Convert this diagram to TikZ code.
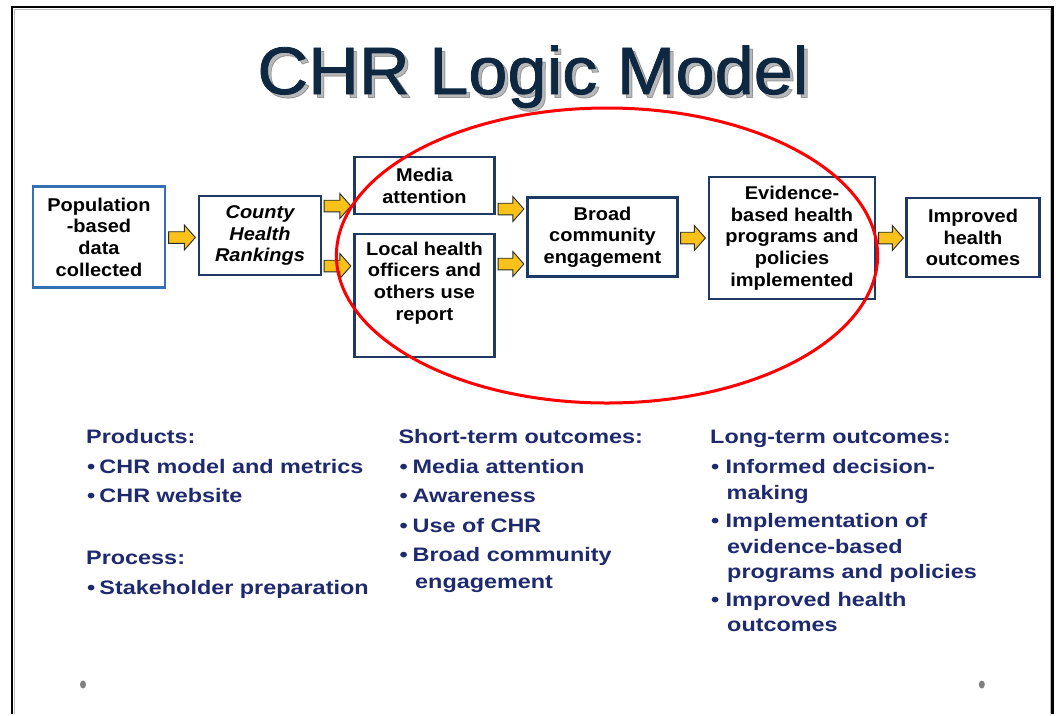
\documentclass[tikz,border=0pt]{standalone}
\usepackage{fontspec}
\setmainfont{Liberation Sans}
\newfontfamily\titlefont[FakeStretch=1.05,FakeBold=1.2]{Liberation Sans}
\newfontfamily\boxfont[FakeStretch=1.08]{Liberation Sans}
\newfontfamily\listfont[FakeStretch=1.2]{Liberation Sans}
\usetikzlibrary{calc}

\definecolor{titleblue}{HTML}{0E2841}
\definecolor{boxnavy}{HTML}{1F3864}
\definecolor{popblue}{HTML}{3570B5}
\definecolor{listblue}{HTML}{1F2A6E}
\definecolor{arrowyellow}{HTML}{F9C21B}
\definecolor{arrowline}{HTML}{2A2A2A}
\definecolor{dotgray}{HTML}{808080}

% bullet followed by a fixed gap
\newcommand\bul[1][12.5pt]{\makebox[#1][l]{•}}

\begin{document}
\begin{tikzpicture}[x=1pt,y=-1pt,
  box/.style={draw=boxnavy, line width=2.3pt, fill=white, inner sep=0pt,
    align=center, text=black,
    font=\boxfont\bfseries\fontsize{18.5pt}{21.7pt}\selectfont},
  boxtext/.style={inner sep=0pt, align=center, text=black,
    font=\boxfont\bfseries\fontsize{18.5pt}{21.7pt}\selectfont},
  listline/.style={anchor=base west, inner sep=0pt, text=listblue,
    font=\listfont\bfseries\fontsize{19.5pt}{26pt}\selectfont},
  titletext/.style={anchor=base, inner sep=0pt,
    font=\titlefont\fontsize{67pt}{67pt}\selectfont},
  flow/.style={draw=arrowline, line width=0.9pt, fill=arrowyellow, line join=miter,
    to path={let \p1=(\tikztostart), \p2=(\tikztotarget) in
      (\x1,\y1+5.8pt) -- (\x2-11pt,\y1+5.8pt) -- (\x2-11pt,\y1+12.5pt) -- (\x2,\y1)
      -- (\x2-11pt,\y1-12.5pt) -- (\x2-11pt,\y1-5.8pt) -- (\x1,\y1-5.8pt) -- cycle}},
]
% page and slide frame
\fill[white] (0,0) rectangle (1056,714);
\draw[black!25, line width=1pt] (14.5,714) -- (14.5,9.5) -- (1050,9.5) -- (1050,714);
\draw[black, line width=2.5pt] (12,714) -- (12,7) -- (1052.5,7) -- (1052.5,714);

% title with a soft drop shadow
\node[titletext, text=black, opacity=0.28] (titleshadow) at (536.5,97.5) {CHR Logic Model};
\node[titletext, text=titleblue] (title) at (533,94) {CHR Logic Model};

% logic model boxes
\node[box, draw=popblue, minimum width=132pt, minimum height=101pt] (pop) at (99,237)
  {Population\\-based\\data\\collected};
\node[box, minimum width=122pt, minimum height=79pt] (chr) at (260,235.5)
  {\itshape County\\\itshape Health\\\itshape Rankings};
\node[box, minimum width=140pt, minimum height=57pt] (media) at (424.5,185.6)
  {Media\\attention};
\node[box, minimum width=140pt, minimum height=123pt] (local) at (424.5,295.3) {};
\node[boxtext] (localtxt) at (424.5,283) {Local health\\officers and\\others use\\report};
\node[box, minimum width=150pt, minimum height=79pt] (broad) at (602.5,237)
  {Broad\\community\\engagement};
\node[box, minimum width=166pt, minimum height=122pt] (evid) at (792,238)
  {Evidence-\\based health\\programs and\\policies\\implemented};
\node[box, minimum width=133pt, minimum height=79pt] (impr) at (973,237.5)
  {Improved\\health\\outcomes};

% block arrows between boxes
\draw[flow] ([xshift=2.5pt,yshift=-0.5pt]pop.east) to ([xshift=-2.5pt]chr.west);
\draw[flow] ([xshift=2pt,yshift=29.5pt]chr.east) to ([xshift=-2.5pt]media.west);
\draw[flow] ([xshift=2pt,yshift=-30.5pt]chr.east) to ([xshift=-2.5pt]local.west);
\draw[flow] ([xshift=2.5pt,yshift=-23.4pt]media.east) to ([xshift=-2.5pt]broad.west);
\draw[flow] ([xshift=2.5pt,yshift=31.3pt]local.east) to ([xshift=-2.5pt]broad.west);
\draw[flow] ([xshift=2pt,yshift=-1pt]broad.east) to ([xshift=-2.5pt]evid.west);
\draw[flow] ([xshift=2.5pt]evid.east) to ([xshift=-2pt]impr.west);

% highlight ring
\draw[red, line width=3pt] (607,255.5) ellipse [x radius=270.6, y radius=147.5];

% products and process
\node[listline] (prodh) at (86,443.3) {Products:};
\node[listline] (prod1) at (86.8,473.3) {\bul CHR model and metrics};
\node[listline] (prod2) at (86.8,502.7) {\bul CHR website};
\node[listline] (proch) at (86,564.3) {Process:};
\node[listline] (proc1) at (86.8,594) {\bul Stakeholder preparation};

% short-term outcomes
\node[listline] (shorth) at (398.3,443.3) {Short-term outcomes:};
\node[listline] (short1) at (399.5,473.3) {\bul[13pt]Media attention};
\node[listline] (short2) at (399.5,502.7) {\bul[13pt]Awareness};
\node[listline] (short3) at (399.5,532.7) {\bul[13pt]Use of CHR};
\node[listline] (short4) at (399.5,561.7) {\bul[13pt]Broad community};
\node[listline] (short4b) at (415,588.3) {engagement};

% long-term outcomes
\node[listline] (longh) at (710,443.3) {Long-term outcomes:};
\node[listline] (long1) at (711,473.3) {\bul[14.5pt]Informed decision-};
\node[listline] (long1b) at (726.5,499.3) {making};
\node[listline] (long2) at (711,527.3) {\bul[14.5pt]Implementation of};
\node[listline] (long2b) at (727,553.3) {evidence-based};
\node[listline] (long2c) at (727,578.3) {programs and policies};
\node[listline] (long3) at (711,606.7) {\bul[14.5pt]Improved health};
\node[listline] (long3b) at (727,631.7) {outcomes};

% slide footer dots
\fill[dotgray] (83,684.5) ellipse [x radius=3, y radius=4];
\fill[dotgray] (981.8,684.5) ellipse [x radius=3, y radius=4];

\useasboundingbox (0,0) rectangle (1056,714);
\end{tikzpicture}
\end{document}
